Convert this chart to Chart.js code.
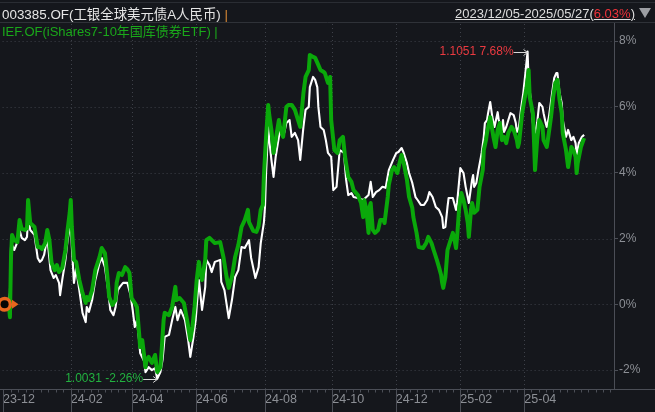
<!DOCTYPE html>
<html>
<head>
<meta charset="utf-8">
<script src="https://cdn.jsdelivr.net/npm/chart.js@4.4.1/dist/chart.umd.min.js"></script>
<style>
  html, body { margin:0; padding:0; background:#15171c; }
  #wrap { position:relative; width:655px; height:412px; overflow:hidden; background:#15171c;
          font-family:"Liberation Sans","Noto Sans CJK SC",sans-serif; }
  canvas { position:absolute; left:0; top:0; }
  .t { position:absolute; font-size:13px; line-height:15px; white-space:nowrap; }
  #topline { position:absolute; left:0; top:2px; width:655px; height:1px; background:#2a2d33; }
  #tri { position:absolute; left:639px; top:8px; width:0; height:0;
         border-left:6.5px solid transparent; border-right:6.5px solid transparent; border-top:10px solid #9c9ea3; }
</style>
</head>
<body>
<div id="wrap">
  <canvas id="c" width="655" height="412"></canvas>
  <div id="topline"></div>
  <div class="t" id="t1" style="left:2px;top:7px;color:#e6e6e6;font-size:13.4px;">003385.OF(工银全球美元债A人民币) <span style="color:#d98a35">|</span></div>
  <div class="t" id="t2" style="left:2px;top:24px;color:#1aa81a;">IEF.OF(iShares7-10年国库债券ETF) |</div>
  <div class="t" id="t3" style="right:20px;top:6px;color:#dedede;text-decoration:underline;">2023/12/05-2025/05/27(<span style="color:#f0333a">6.03%</span>)</div>
  <div id="tri"></div>
</div>
<script>
// ---- data (x = day index from 2023/12/05, y = cumulative return %) ----
const whiteName = "003385.OF(工银全球美元债A人民币)";
const greenName = "IEF.OF(iShares7-10年国库债券ETF)";
const baseNav = 1.0263;

const whiteDays = [0,1,2,3,5,8,10,12,15,17,18,20,24,27,29,31,33,36,39,42,44,47,48,50,53,55,58,59,61,63,66,69,72,73,75,78,81,85,87,90,93,95,98,100,102,104,107,111,114,116,118,120,122,123,127,128,131,134,137,139,142,144,146,150,153,156,158,161,165,168,170,173,175,178,181,184,185,188,190,193,198,199,202,206,209,212,215,218,221,225,227,231,234,236,239,240,241,243,244,246,248,250,253,255,258,260,263,265,268,271,273,276,278,281,282,285,287,289,290,292,295,297,299,302,304,307,310,314,316,318,321,323,327,332,337,339,341,344,347,350,353,356,360,363,365,368,370,373,375,378,381,383,386,389,392,394,397,400,403,406,407,409,411,412,416,419,420,423,426,428,431,434,435,436,438,440,443,445,446,448,449,451,453,455,458,459,462,463,464,466,468,470,473,475,476,478,480,482,484,486,487,489,491,493,495,497,500,501,503,504,506,509,511,513,514,516,518,519,522,524,527,529,531,532,534,537,539];
const whiteVals = [0,0.37,1.74,1.80,1.65,1.89,2.26,2.02,1.95,2.05,2.65,2.26,2.11,1.41,1.29,1.35,1.50,2.05,1.04,0.80,0.89,0.65,0.28,0.74,1.35,1.95,2.47,1.74,0.65,1.10,0.43,-0.26,-0.54,-0.08,-0.23,0.13,0.74,1.26,1.41,1.13,0.43,-0.17,-0.33,-0.08,0.43,0.53,0.65,0.65,0.28,-0.17,-0.69,-0.48,-1.09,-1.48,-1.75,-2.06,-1.91,-2.00,-1.94,-2.26,-2.06,-1.69,-0.99,-0.93,-0.48,-0.08,-0.48,-0.17,-0.48,-1.09,-1.60,-0.99,-0.48,0.74,-0.17,0.53,1.35,1.19,0.98,1.29,1.35,0.68,0.43,-0.42,0.13,0.83,1.04,1.74,1.71,1.95,1.41,0.80,1.13,1.86,2.50,2.96,3.99,5.39,4.99,4.39,3.87,4.48,5.09,5.39,5.21,5.51,5.60,5.09,5.21,4.99,4.39,5.39,5.91,6.00,6.60,6.91,6.82,6.60,6.00,5.39,5.30,4.99,4.60,4.48,3.47,3.57,4.69,4.60,3.78,3.32,3.38,3.26,3.23,3.17,3.32,3.72,3.26,3.41,3.47,3.57,3.54,4.08,4.39,4.60,4.63,4.75,4.60,4.29,3.99,3.69,3.26,3.17,3.02,3.02,3.17,3.41,3.26,2.96,2.87,2.65,2.32,2.35,2.96,3.23,3.23,2.87,3.08,4.14,3.99,3.57,3.08,3.78,3.93,3.57,3.69,4.08,4.60,5.09,5.51,5.60,5.81,6.15,5.69,5.39,5.84,5.60,5.30,5.60,5.24,5.39,5.60,5.81,5.75,5.51,5.24,5.39,5.97,6.42,7.03,7.68,6.82,6.21,5.51,5.21,5.51,6.12,6.00,5.81,5.51,5.39,5.69,6.42,6.88,7.03,7.03,6.42,6.12,5.60,5.09,5.30,4.99,5.09,4.90,4.54,4.90,5.09,5.15];

const greenDays = [0,1,2,3,5,8,10,12,15,17,18,20,24,27,29,31,34,36,38,40,43,45,47,50,53,55,57,58,59,61,63,66,69,72,73,75,78,81,85,87,90,92,94,97,100,101,103,106,109,111,113,115,118,120,122,123,125,128,129,131,134,137,139,142,143,145,146,150,153,156,157,160,164,167,170,172,174,176,178,179,181,184,185,188,193,198,201,204,206,209,212,215,218,221,224,225,229,232,234,236,238,239,241,243,244,246,248,250,253,254,257,260,262,265,268,271,273,276,278,281,282,285,287,290,292,295,296,299,301,302,304,305,308,310,313,315,318,321,323,327,330,332,333,335,337,338,339,341,343,346,348,351,352,355,356,359,361,364,366,368,370,373,375,378,379,382,384,388,391,393,396,398,401,403,405,406,407,409,411,413,416,417,419,420,422,424,426,428,430,431,433,434,436,439,441,444,445,447,448,451,454,456,458,460,462,464,466,468,471,473,476,477,478,481,483,485,487,488,491,492,493,495,497,500,501,504,505,508,510,512,514,516,518,519,522,524,527,529,531,532,533,536,539];
const greenVals = [0,-0.39,1.44,2.11,1.95,1.89,2.56,2.29,2.26,2.32,3.17,2.47,2.35,1.74,1.74,1.68,1.86,2.26,1.95,1.26,1.04,1.19,0.98,1.10,1.65,2.26,2.78,3.17,2.35,1.35,1.29,0.74,0.34,0.04,0.22,0.13,0.43,1.04,1.44,1.71,1.56,0.95,0.22,-0.02,0.13,0.65,0.95,0.89,1.13,1.07,0.95,0.19,0.04,-0.08,-0.87,-1.30,-1.09,-1.91,-1.69,-1.60,-1.78,-1.54,-2.06,-1.91,-1.48,-0.48,-0.26,-0.33,-0.08,0.53,0.13,0.19,0.04,-0.48,-1.09,-0.69,-0.08,0.74,1.29,1.04,0.74,1.35,1.95,2.02,1.86,1.89,1.44,0.83,0.50,0.83,1.44,1.80,2.35,2.56,2.87,2.50,2.23,2.20,2.38,2.87,3.02,3.93,5.09,6.06,5.75,5.30,4.60,4.99,5.60,5.39,5.09,6.00,6.06,6.06,5.91,5.60,5.39,6.42,6.91,7.12,7.58,7.52,7.49,7.27,7.12,7.06,7.03,6.73,6.91,5.60,4.99,4.69,4.60,4.99,5.09,4.48,3.87,3.72,3.47,3.32,3.08,2.65,3.17,2.87,2.17,2.96,3.08,2.26,2.17,2.26,2.56,2.56,2.47,3.26,3.63,4.08,4.17,3.99,4.29,4.54,4.29,3.78,3.26,2.93,2.65,2.17,1.74,1.71,1.86,2.05,1.86,1.65,1.35,1.13,0.89,0.65,0.50,0.83,1.65,1.86,2.17,2.05,1.71,2.05,2.96,3.38,3.17,2.87,2.47,2.05,2.87,3.08,2.78,2.87,3.57,4.08,4.69,4.99,5.21,5.69,5.09,4.78,5.30,5.51,4.99,5.09,4.90,5.21,5.39,5.30,4.99,4.78,4.90,5.81,6.21,6.57,7.12,6.30,5.81,4.99,4.08,4.99,5.60,5.39,4.99,4.78,4.99,5.69,6.30,6.73,6.82,6.21,5.81,5.20,4.69,4.17,4.78,4.69,4.48,3.99,4.29,4.78,5.05];

const tickDays   = [-5.5, 58, 115, 175, 240, 303, 362.5, 423, 483];
const tickLabels = ["23-12","24-02","24-04","24-06","24-08","24-10","24-12","25-02","25-04"];
const yTicks = [-2, 0, 2, 4, 6, 8];

// ---- colours ----
const C = {
  white:'#ffffff', green:'#0aa80a', grid:'#3e4149', axis:'#4b4e56', label:'#8c8f95',
  red:'#ea3a40', greenText:'#22b23f', orange:'#e8661e'
};

const decor = {
  id:'decor',
  beforeDatasetsDraw(chart){
    const {ctx, chartArea:a, scales:{x, y}} = chart;
    ctx.save();
    ctx.lineWidth = 1;
    ctx.strokeStyle = C.grid;
    ctx.setLineDash([1,3]);
    yTicks.forEach(v=>{
      const py = Math.round(y.getPixelForValue(v)) + 0.5;
      ctx.beginPath(); ctx.moveTo(a.left, py); ctx.lineTo(a.right, py); ctx.stroke();
    });
    tickDays.forEach((d,i)=>{
      if (i === 0) return;
      const px = Math.round(x.getPixelForValue(d)) + 0.5;
      ctx.beginPath(); ctx.moveTo(px, a.top + 2); ctx.lineTo(px, a.bottom); ctx.stroke();
    });
    ctx.setLineDash([]);
    ctx.strokeStyle = C.axis;
    const bx = Math.round(a.right) + 0.5, by = Math.round(a.bottom) + 0.5;
    ctx.beginPath(); ctx.moveTo(bx, a.top); ctx.lineTo(bx, by); ctx.stroke();
    ctx.beginPath(); ctx.moveTo(0, by); ctx.lineTo(chart.width, by); ctx.stroke();
    ctx.beginPath(); ctx.moveTo(0, a.top + 0.5); ctx.lineTo(chart.width, a.top + 0.5); ctx.strokeStyle = '#2f3238'; ctx.stroke();
    ctx.strokeStyle = C.axis;
    tickDays.forEach(d=>{
      const px = Math.round(x.getPixelForValue(d)) + 0.5;
      ctx.beginPath(); ctx.moveTo(px, by); ctx.lineTo(px, chart.height); ctx.stroke();
    });
    const minor = [];
    for (let i = 0; i < tickDays.length - 1; i++) {
      const st = (tickDays[i+1] - tickDays[i]) / 9;
      for (let k = 1; k < 9; k++) minor.push(tickDays[i] + k*st);
    }
    const last = tickDays[tickDays.length-1], stL = (last - tickDays[tickDays.length-2]) / 9;
    for (let d = last + stL; x.getPixelForValue(d) < a.right - 2; d += stL) minor.push(d);
    minor.forEach(d=>{
      const px = Math.round(x.getPixelForValue(d)) + 0.5;
      ctx.beginPath(); ctx.moveTo(px, by); ctx.lineTo(px, by + 3); ctx.stroke();
    });
    ctx.restore();
  },
  afterDatasetsDraw(chart){
    const {ctx, scales:{x, y}, chartArea:a} = chart;
    ctx.save();
    let iMax = 0, iMin = 0;
    whiteVals.forEach((v,i)=>{ if (v > whiteVals[iMax]) iMax = i; if (v < whiteVals[iMin]) iMin = i; });
    const ann = (i, color) => {
      const v = whiteVals[i];
      const px = x.getPixelForValue(whiteDays[i]);
      const py = y.getPixelForValue(v);
      const txt = (baseNav * (1 + v/100)).toFixed(4) + ' ' + v.toFixed(2) + '%';
      ctx.font = '12px "Liberation Sans", sans-serif';
      ctx.textAlign = 'right'; ctx.textBaseline = 'middle';
      ctx.fillStyle = color;
      const ax0 = px - 14, yy = Math.round(py) + 0.5;
      ctx.fillText(txt, ax0, py);
      ctx.strokeStyle = '#d8d8d8'; ctx.lineWidth = 1;
      ctx.beginPath(); ctx.moveTo(ax0, yy); ctx.lineTo(px, yy);
      ctx.moveTo(px - 4, yy - 3); ctx.lineTo(px, yy); ctx.lineTo(px - 4, yy + 3);
      ctx.stroke();
    };
    ann(iMax, C.red);
    ann(iMin, C.greenText);
    const y0 = y.getPixelForValue(0);
    const cx = a.left + 2;
    ctx.beginPath(); ctx.arc(cx, y0, 7.5, 0, Math.PI*2); ctx.fillStyle = C.orange; ctx.fill();
    ctx.beginPath(); ctx.arc(cx, y0, 4, 0, Math.PI*2); ctx.fillStyle = '#050505'; ctx.fill();
    ctx.beginPath(); ctx.moveTo(12, y0 - 4.5); ctx.lineTo(18.5, y0); ctx.lineTo(12, y0 + 4.5); ctx.closePath();
    ctx.fillStyle = C.orange; ctx.fill();
    ctx.restore();
  }
};

new Chart(document.getElementById('c'), {
  type:'line',
  data:{
    datasets:[
      { label:whiteName, data:whiteDays.map((d,i)=>({x:d, y:whiteVals[i]})),
        borderColor:C.white, borderWidth:2.1, pointRadius:0, tension:0, borderJoinStyle:'round', order:2 },
      { label:greenName, data:greenDays.map((d,i)=>({x:d, y:greenVals[i]})),
        borderColor:C.green, borderWidth:4, pointRadius:0, tension:0, borderJoinStyle:'round', order:1 }
    ]
  },
  options:{
    responsive:false, animation:false, devicePixelRatio:1,
    layout:{ padding:{ top:22, left:0, right:0, bottom:0 } },
    plugins:{ legend:{display:false}, tooltip:{enabled:false}, title:{display:false} },
    scales:{
      x:{
        type:'linear', min:-5.88, max:567,
        grid:{ display:false, drawTicks:false }, border:{ display:false },
        afterBuildTicks:s=>{ s.ticks = tickDays.map(v=>({value:v})); },
        afterFit:s=>{ s.height = 23; },
        ticks:{ align:'start', autoSkip:false, maxRotation:0, padding:3, color:C.label,
                font:{ size:12.5, family:'"Liberation Sans", sans-serif' },
                callback:(v,i)=>tickLabels[i] }
      },
      y:{
        type:'linear', position:'right', min:-2.574, max:8.58,
        grid:{ display:true, drawOnChartArea:false, drawTicks:true, tickLength:4, tickColor:C.axis, color:'transparent' },
        border:{ display:false },
        afterBuildTicks:s=>{ s.ticks = yTicks.map(v=>({value:v})); },
        afterFit:s=>{ s.width = 41; },
        ticks:{ padding:1, color:C.label, font:{ size:12, family:'"Liberation Sans", sans-serif' },
                callback:v=>v + '%' }
      }
    }
  },
  plugins:[decor]
});
</script>
</body>
</html>
